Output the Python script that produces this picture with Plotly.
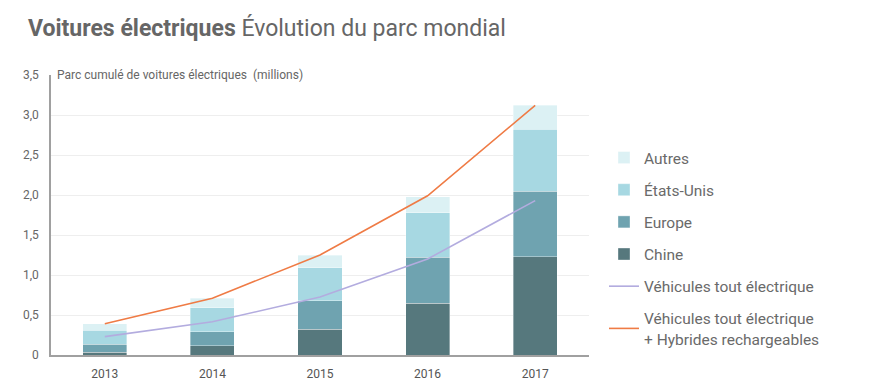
import plotly.graph_objects as go

years = ["2013", "2014", "2015", "2016", "2017"]
chine = [0.033, 0.116, 0.325, 0.65, 1.23]
europe = [0.104, 0.174, 0.355, 0.57, 0.82]
etats_unis = [0.173, 0.30, 0.41, 0.56, 0.77]
autres = [0.08, 0.12, 0.155, 0.20, 0.30]
bev = [0.23, 0.415, 0.725, 1.20, 1.93]
bev_phev = [0.39, 0.71, 1.25, 1.99, 3.12]

y_tickvals = [0, 0.5, 1.0, 1.5, 2.0, 2.5, 3.0, 3.5]
y_ticktext = ["0", "0,5", "1,0", "1,5", "2,0", "2,5", "3,0", "3,5"]

FONT = "Roboto"
GRAY = "#6a6a6a"

fig = go.Figure()
bar_series = [
    ("Chine", chine, "#56787d", 4),
    ("Europe", europe, "#6fa3b0", 3),
    ("États-Unis", etats_unis, "#a7d8e2", 2),
    ("Autres", autres, "#dcf1f4", 1),
]
for name, vals, col, rank in bar_series:
    fig.add_trace(go.Bar(
        x=years, y=vals, name=name, marker_color=col,
        marker_line=dict(color="rgba(255,255,255,0.6)", width=0.6),
        width=0.41, legendrank=rank, legendgroup=name,
    ))

fig.add_trace(go.Scatter(
    x=years, y=bev, mode="lines", name="Véhicules tout électrique",
    line=dict(color="#b3acdf", width=1.6),
    legendrank=5, legendgroup="bev",
))
fig.add_trace(go.Scatter(
    x=years, y=bev_phev, mode="lines",
    name="Véhicules tout électrique<br>+ Hybrides rechargeables",
    line=dict(color="#ef7b45", width=1.6),
    legendrank=6, legendgroup="phev",
))

fig.update_layout(
    width=876, height=384,
    margin=dict(l=51, r=287, t=75, b=29),
    barmode="stack",
    plot_bgcolor="white", paper_bgcolor="white",
    font=dict(family=FONT, color=GRAY, size=12),
    title=dict(
        text="<b>Voitures électriques</b> Évolution du parc mondial",
        x=28 / 876, xanchor="left", xref="container",
        y=1 - 28 / 384, yanchor="middle", yref="container",
        font=dict(family=FONT, size=23, color="#666666"),
    ),
    showlegend=True,
    legend=dict(
        x=(604 - 51) / 538, xanchor="left", y=(355 - 141) / 280, yanchor="top",
        traceorder="grouped", tracegroupgap=9,
        font=dict(family=FONT, size=15.5, color=GRAY),
        bgcolor="rgba(0,0,0,0)",
    ),
    xaxis=dict(
        type="category", range=[-0.5, 4.5],
        showline=True, linecolor="#a0a0a0", linewidth=1.5,
        showgrid=False, ticks="", ticklabelstandoff=7,
        tickfont=dict(size=12, color="#555555"),
        automargin=False,
    ),
    yaxis=dict(
        range=[0, 3.5], tickvals=y_tickvals, ticktext=y_ticktext,
        showline=True, linecolor="#a0a0a0", linewidth=1.5,
        showgrid=True, gridcolor="#eeeeee", gridwidth=1,
        zeroline=False, ticks="", ticklabelstandoff=8,
        tickfont=dict(size=12, color="#666666"),
        automargin=False,
    ),
    annotations=[dict(
        text="Parc cumulé de voitures électriques  (millions)",
        x=0, xref="paper", xshift=4, xanchor="left",
        y=3.5, yref="y", yanchor="middle",
        showarrow=False, font=dict(family=FONT, size=12, color="#666666"),
        bgcolor="white",
    )],
)

fig.write_html("out.html", config={"displayModeBar": False},
               post_script="document.body.style.margin='0px';")
